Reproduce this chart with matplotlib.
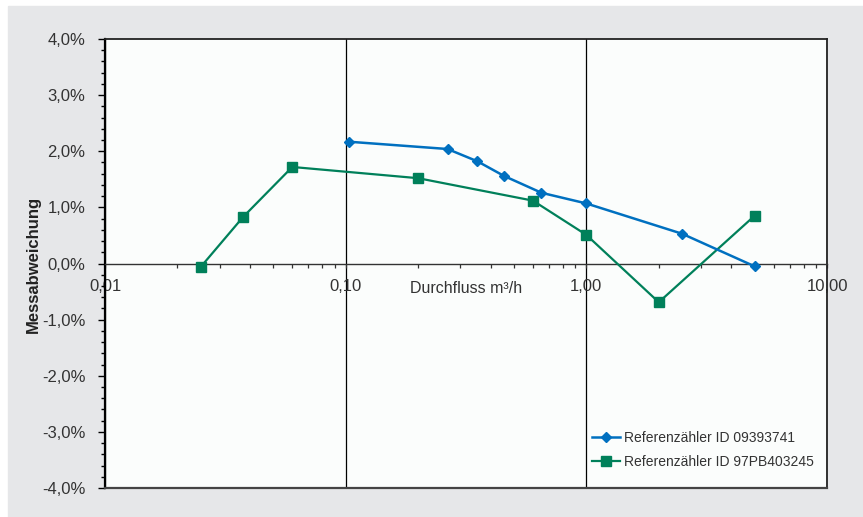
import numpy as np
import matplotlib
matplotlib.use("Agg")
from matplotlib import pyplot as plt
from matplotlib import ticker
from matplotlib.patches import Rectangle

# flow in m3/h, deviation in percent
flow_a = [0.103, 0.265, 0.353, 0.455, 0.651, 1.0, 2.5, 5.0]
dev_a = [2.17, 2.04, 1.82, 1.56, 1.26, 1.07, 0.53, -0.05]
flow_b = [0.025, 0.0375, 0.06, 0.2, 0.6, 1.0, 2.0, 5.0]
dev_b = [-0.06, 0.83, 1.72, 1.52, 1.12, 0.51, -0.69, 0.85]
label_a = "Referenzähler ID 09393741"
label_b = "Referenzähler ID 97PB403245"
x_ticks = [0.01, 0.1, 1.0, 10.0]
x_tick_labels = ["0,01", "0,10", "1,00", "10,00"]
y_ticks = [-4, -3, -2, -1, 0, 1, 2, 3, 4]

plt.rcParams["font.family"] = ["Liberation Sans", "DejaVu Sans"]
text_col = "#333333"

W, H = 863, 517
fig = plt.figure(figsize=(W / 100, H / 100), dpi=100)
fig.patch.set_facecolor("white")
# gray panel behind the chart, thin white strip top and left
fig.add_artist(Rectangle((8 / W, 0), 1 - 8 / W, 1 - 6 / H,
                         transform=fig.transFigure, color="#e6e7e9", zorder=-10))

ax = fig.add_axes([105 / W, 1 - 488 / H, 722 / W, 449 / H])
ax.set_facecolor("#fbfdfc")

ax.plot(flow_a, dev_a, color="#0070c0", lw=1.8, marker="D", ms=5.5,
        label=label_a, zorder=4)
ax.plot(flow_b, dev_b, color="#00805a", lw=1.6, marker="s", ms=7.5,
        label=label_b, zorder=3)

ax.set_xscale("log")
ax.set_xlim(0.01, 10)
ax.set_ylim(-4, 4)

# x axis sits on the zero line
ax.spines["bottom"].set_position(("data", 0))
ax.spines["bottom"].set_color("#333333")
ax.spines["bottom"].set_linewidth(1.0)
for s in ["top", "right"]:
    ax.spines[s].set_color("#222222")
    ax.spines[s].set_linewidth(1.3)
ax.spines["left"].set_color("black")
ax.spines["left"].set_linewidth(1.6)
ax.axhline(-4, color="#444444", lw=1.6, clip_on=False, zorder=5)

ax.xaxis.set_major_locator(ticker.FixedLocator(x_ticks))
ax.xaxis.set_major_formatter(ticker.FixedFormatter(x_tick_labels))
ax.xaxis.set_minor_locator(ticker.LogLocator(base=10, subs=np.arange(2, 10)))
ax.xaxis.set_minor_formatter(ticker.NullFormatter())
ax.tick_params(axis="x", which="both", direction="out", length=3, width=0.9,
               color="#333333", labelsize=12, labelcolor=text_col, pad=8)
ax.xaxis.grid(True, which="major", color="black", lw=0.9)

ax.yaxis.set_major_locator(ticker.FixedLocator(y_ticks))
ax.yaxis.set_minor_locator(ticker.MultipleLocator(0.2))
ax.yaxis.set_major_formatter(
    ticker.FuncFormatter(lambda v, p: f"{v:.1f}%".replace(".", ",")))
ax.tick_params(axis="y", which="major", direction="out", length=5, width=1,
               labelsize=12, labelcolor=text_col, pad=9)
ax.tick_params(axis="y", which="minor", direction="out", length=3, width=1)

ax.text(0.5, -0.44, "Durchfluss m³/h", transform=ax.get_yaxis_transform(),
        ha="center", va="center", fontsize=11.5, color=text_col)
fig.text(33 / W, 1 - 264 / H, "Messabweichung", rotation=90, ha="center",
         va="center", fontsize=12, fontweight="bold", color="#222222")

ax.legend(loc="center left", bbox_to_anchor=(0.675, 0.085), frameon=False,
          fontsize=10, handlelength=2.0, handletextpad=0.3, labelspacing=0.7,
          borderpad=0, borderaxespad=0, labelcolor=text_col)

fig.savefig("out.png", dpi=100)
